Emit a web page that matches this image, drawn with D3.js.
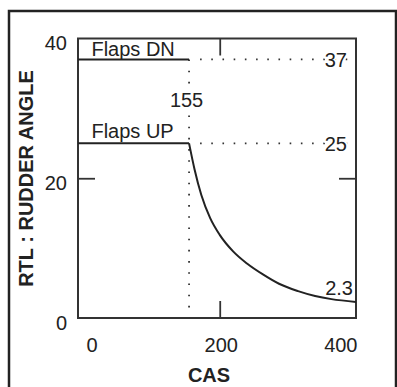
<!DOCTYPE html>
<html>
<head>
<meta charset="utf-8">
<script src="https://cdn.jsdelivr.net/npm/d3@7"></script>
<style>
  body { margin: 0; background: #fff; }
  text { font-family: "Liberation Sans", Arial, sans-serif; fill: #222; }
</style>
</head>
<body>
<div id="chart"></div>
<script>
// Curve: CAS vs rudder travel limit (flaps up)
const cas = [155, 163, 173, 186, 200, 220, 240, 264, 287, 315, 340, 364, 400];
const rudder = [25, 21.3, 17.6, 14.3, 11.9, 9.5, 7.8, 6.2, 4.9, 3.85, 3.15, 2.7, 2.3];

// Flap limits
const flapNames = ["Flaps DN", "Flaps UP"];
const flapLimits = [37, 25];
const breakCas = 155;
const endLabel = "2.3";

// Axis ticks
const xTickLabels = [0, 200, 400];
const yTickLabels = [0, 20, 40];
const xTickMarks = [200];
const yTickMarks = [20];

const W = 397, H = 387;
const margin = { top: 38.5, right: 41, bottom: 69, left: 78 };
const width = W - margin.left - margin.right;
const height = H - margin.top - margin.bottom;

const svg = d3.select("#chart").append("svg")
  .attr("width", W)
  .attr("height", H);

// outer frame (runs off the bottom of the picture)
svg.append("rect")
  .attr("x", 9).attr("y", 11)
  .attr("width", 387).attr("height", 420)
  .attr("fill", "none")
  .attr("stroke", "#222")
  .attr("stroke-width", 2.5);

const g = svg.append("g")
  .attr("transform", `translate(${margin.left},${margin.top})`);

const x = d3.scaleLinear().domain([-8, 400]).range([0, width]);
const y = d3.scaleLinear().domain([0, 40]).range([height, 0]);

// tick marks, pointing inward on all four sides
const tickLen = 17;
g.append("g").attr("transform", `translate(0,${height})`)
  .call(d3.axisBottom(x).tickValues(xTickMarks).tickSize(-tickLen).tickFormat(""));
g.append("g")
  .call(d3.axisTop(x).tickValues(xTickMarks).tickSize(-tickLen).tickFormat(""));
g.append("g")
  .call(d3.axisLeft(y).tickValues(yTickMarks).tickSize(-tickLen).tickFormat(""));
g.append("g").attr("transform", `translate(${width},0)`)
  .call(d3.axisRight(y).tickValues(yTickMarks).tickSize(-tickLen).tickFormat(""));
g.selectAll(".domain").remove();
g.selectAll(".tick line").attr("stroke", "#333").attr("stroke-width", 1.8);

// tick labels
const xAx = g.append("g").attr("transform", `translate(0,${height})`)
  .call(d3.axisBottom(x).tickValues(xTickLabels).tickSize(0).tickPadding(20));
xAx.selectAll("text")
  .style("font-size", "20px")
  .attr("text-anchor", (d, i) => i === 0 ? "start" : (i === xTickLabels.length - 1 ? "end" : "middle"))
  .attr("dx", (d, i) => i === 0 ? 2.5 : 1);
xAx.select(".domain").remove();

const yAx = g.append("g")
  .call(d3.axisLeft(y).tickValues(yTickLabels).tickSize(0).tickPadding(11));
yAx.selectAll("text")
  .style("font-size", "20px")
  .attr("dy", "0.56em");
yAx.select(".domain").remove();

// plot frame
g.append("rect")
  .attr("width", width).attr("height", height)
  .attr("fill", "none")
  .attr("stroke", "#333")
  .attr("stroke-width", 2);

const dotted = { stroke: "#333", width: 1.8, dash: "1.6 9.6" };

// dotted guides
g.append("line")
  .attr("x1", x(breakCas)).attr("x2", x(breakCas))
  .attr("y1", y(flapLimits[0])).attr("y2", y(0))
  .attr("stroke", dotted.stroke).attr("stroke-width", dotted.width)
  .attr("stroke-dasharray", dotted.dash);

g.selectAll(".guide")
  .data(flapLimits)
  .join("line")
  .attr("class", "guide")
  .attr("x1", x(breakCas) + 11).attr("x2", x(400))
  .attr("y1", d => y(d)).attr("y2", d => y(d))
  .attr("stroke", dotted.stroke).attr("stroke-width", dotted.width)
  .attr("stroke-dasharray", dotted.dash);

// solid flap limit lines
g.selectAll(".flap")
  .data(flapLimits)
  .join("line")
  .attr("class", "flap")
  .attr("x1", x(-8)).attr("x2", x(breakCas))
  .attr("y1", d => y(d)).attr("y2", d => y(d))
  .attr("stroke", "#222").attr("stroke-width", 2);

g.selectAll(".flapname")
  .data(flapNames)
  .join("text")
  .attr("class", "flapname")
  .attr("x", x(0) + 8)
  .attr("y", (d, i) => y(flapLimits[i]) - (i === 0 ? 3 : 5))
  .style("font-size", "20px")
  .text(d => d);

// limit values at the right
g.selectAll(".limval")
  .data(flapLimits)
  .join("text")
  .attr("class", "limval")
  .attr("x", x(400) - 9)
  .attr("y", d => y(d))
  .attr("dy", "0.36em")
  .attr("text-anchor", "end")
  .attr("stroke", "#fff").attr("stroke-width", 4)
  .attr("paint-order", "stroke")
  .style("font-size", "20px")
  .text(d => d);

// 155 label on the vertical guide
g.append("text")
  .attr("x", x(breakCas) - 2.5)
  .attr("y", y((flapLimits[0] + flapLimits[1]) / 2))
  .attr("dy", "0.3em")
  .attr("text-anchor", "middle")
  .attr("stroke", "#fff").attr("stroke-width", 6)
  .attr("paint-order", "stroke")
  .style("font-size", "20px")
  .text(breakCas);

// rudder limit curve
g.append("path")
  .datum(cas.map((c, i) => [c, rudder[i]]))
  .attr("fill", "none")
  .attr("stroke", "#222")
  .attr("stroke-width", 2)
  .attr("d", d3.line()
    .x(d => x(d[0]))
    .y(d => y(d[1]))
    .curve(d3.curveMonotoneX));

g.append("text")
  .attr("x", x(cas[cas.length - 1]) - 3)
  .attr("y", y(rudder[rudder.length - 1]) - 7)
  .attr("text-anchor", "end")
  .style("font-size", "20px")
  .text(endLabel);

// axis titles
svg.append("text")
  .attr("transform", "translate(33,178.5) rotate(-90)")
  .attr("text-anchor", "middle")
  .style("font-size", "20px")
  .style("font-weight", "bold")
  .text("RTL : RUDDER ANGLE");

svg.append("text")
  .attr("x", 209).attr("y", 382)
  .attr("text-anchor", "middle")
  .style("font-size", "20px")
  .style("font-weight", "bold")
  .text("CAS");
</script>
</body>
</html>
